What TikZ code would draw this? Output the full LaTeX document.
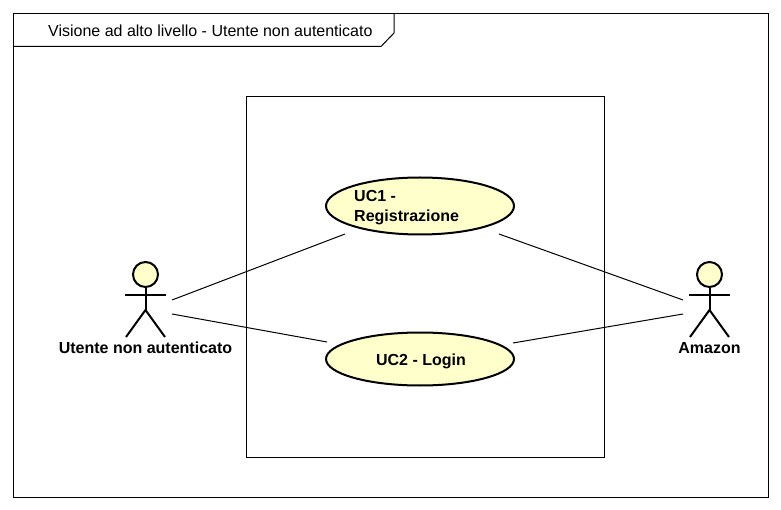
\documentclass[tikz,border=0pt]{standalone}
\usepackage{fontspec}
\setmainfont{Liberation Sans}
\definecolor{ucfill}{RGB}{255,255,204}
\tikzset{
  usecase/.style={ellipse, draw, line width=2pt, fill=ucfill, minimum width=188pt, inner sep=0pt, font=\fontsize{16}{20}\selectfont\bfseries},
  head/.style={circle, draw, line width=2pt, fill=ucfill, minimum size=25pt, inner sep=0pt},
  limb/.style={line width=2pt},
  actorlabel/.style={font=\fontsize{16}{19}\selectfont\bfseries, inner sep=0pt},
  assoc/.style={line width=1pt},
  frameline/.style={line width=1pt}
}
\usetikzlibrary{shapes.geometric}
\begin{document}
\begin{tikzpicture}[x=1pt, y=-1pt]
    \useasboundingbox (0, 0) rectangle (781, 510);

    % frame and title tab
    \node[draw, frameline, minimum width=755pt, minimum height=484pt, inner sep=0pt] (outer) at (391, 255.5) {};
    \coordinate (tabA) at (13.5, 46.5);
    \coordinate (tabB) at (381, 46.5);
    \coordinate (tabC) at (394, 33);
    \coordinate (tabD) at (394, 13.5);
    \draw[frameline] (tabA) -- (tabB) -- (tabC) -- (tabD);
    \node[anchor=base west, inner sep=0pt, font=\fontsize{16}{19}\selectfont] (title) at (48, 36.5) {Visione ad alto livello - Utente non autenticato};

    % system boundary
    \node[draw, frameline, minimum width=358pt, minimum height=361pt, inner sep=0pt] (system) at (425.5, 277) {};

    % use cases
    \node[usecase, minimum height=57pt] (uc1) at (420, 206) {};
    \node[anchor=base west, inner sep=0pt, font=\fontsize{16}{20}\selectfont\bfseries] (uc1a) at (354, 202) {UC1 -};
    \node[anchor=base west, inner sep=0pt, font=\fontsize{16}{20}\selectfont\bfseries] (uc1b) at (354, 222) {Registrazione};
    \node[usecase, minimum height=53pt] (uc2) at (420, 359) {};
    \node[anchor=base, inner sep=0pt, font=\fontsize{16}{20}\selectfont\bfseries] (uc2a) at (421, 365) {UC2 - Login};

    % left actor
    \node[head] (userHead) at (145.5, 274.5) {};
    \coordinate (userArmL) at (125, 295);
    \coordinate (userArmR) at (166, 295);
    \coordinate (userHip) at (145.5, 310);
    \coordinate (userFootL) at (126, 337);
    \coordinate (userFootR) at (165, 337);
    \draw[limb] (userHead) -- (userHip);
    \draw[limb] (userArmL) -- (userArmR);
    \draw[limb] (userFootL) -- (userHip) -- (userFootR);
    \node[actorlabel, anchor=base] (userLabel) at (145.5, 353) {Utente non autenticato};

    % right actor
    \node[head] (amazonHead) at (709.5, 274.5) {};
    \coordinate (amazonArmL) at (689, 295);
    \coordinate (amazonArmR) at (730, 295);
    \coordinate (amazonHip) at (709.5, 310);
    \coordinate (amazonFootL) at (690, 337);
    \coordinate (amazonFootR) at (729, 337);
    \draw[limb] (amazonHead) -- (amazonHip);
    \draw[limb] (amazonArmL) -- (amazonArmR);
    \draw[limb] (amazonFootL) -- (amazonHip) -- (amazonFootR);
    \node[actorlabel, anchor=base] (amazonLabel) at (709.5, 353) {Amazon};

    % associations
    \coordinate (userUp) at (172, 300);
    \coordinate (userDown) at (172, 314);
    \coordinate (uc1Left) at (345, 234);
    \coordinate (uc2Left) at (327, 342);
    \coordinate (uc1Right) at (499, 234);
    \coordinate (uc2Right) at (513, 343);
    \coordinate (amazonUp) at (683, 300);
    \coordinate (amazonDown) at (683, 314);
    \draw[assoc] (userUp) -- (uc1Left);
    \draw[assoc] (userDown) -- (uc2Left);
    \draw[assoc] (uc1Right) -- (amazonUp);
    \draw[assoc] (uc2Right) -- (amazonDown);
\end{tikzpicture}
\end{document}
